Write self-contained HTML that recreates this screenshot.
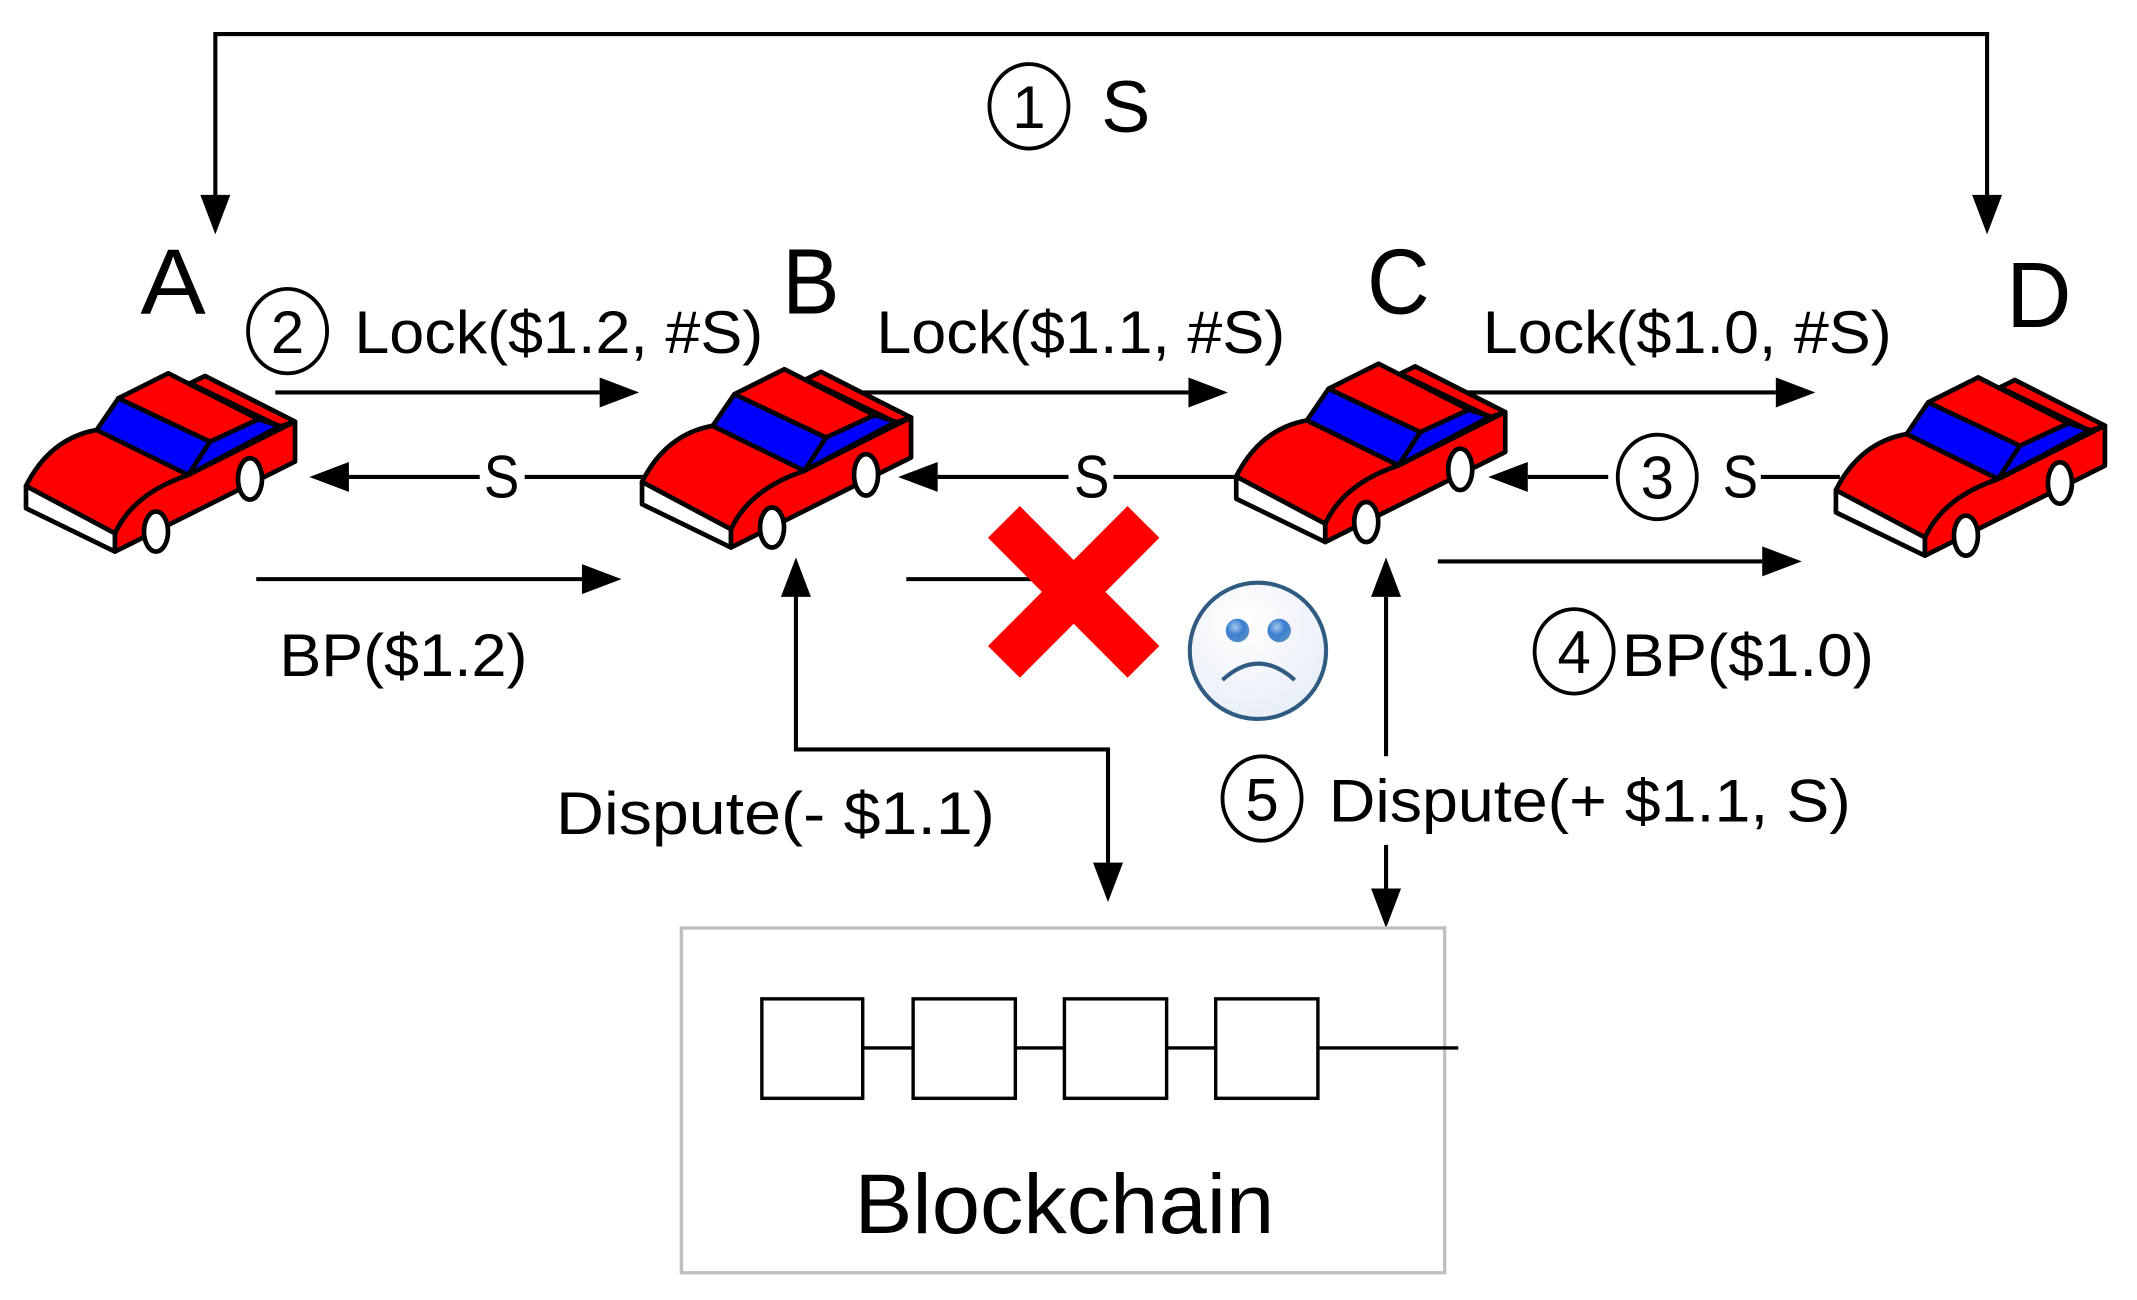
<!DOCTYPE html>
<html><head><meta charset="utf-8"><style>
html,body{margin:0;padding:0;background:#fff;overflow:hidden}
svg{display:block}
text{font-family:"Liberation Sans",sans-serif;fill:#000}
</style></head><body>
<svg width="2137" height="1300" viewBox="0 0 1568 954" preserveAspectRatio="none" xmlns="http://www.w3.org/2000/svg">
<defs>
<g id="car" stroke="#000" stroke-width="14" stroke-linejoin="round">
  <polygon points="78,408 345,550 345,605 78,475" fill="#fff"/>
  <polygon points="570,100 615,78 885,215 840,230" fill="#f00"/>
  <path d="M345,550 Q400,430 565,375 L885,215 L885,335 L345,605 Z" fill="#f00"/>
  <path d="M78,408 Q150,265 290,240 L565,375 Q400,430 345,550 Z" fill="#f00"/>
  <polygon points="290,240 355,145 630,275 565,375" fill="#00f"/>
  <polygon points="630,275 775,208 840,228 565,375" fill="#00f"/>
  <polygon points="355,145 505,70 775,208 630,275" fill="#f00"/>
  <ellipse cx="468" cy="545" rx="36" ry="60" fill="#fff"/>
  <ellipse cx="750" cy="387" rx="36" ry="62" fill="#fff"/>
</g>
<radialGradient id="fg" cx="0.4" cy="0.3" r="0.8"><stop offset="0" stop-color="#ffffff"/><stop offset="1" stop-color="#e6ecf6"/></radialGradient>
<radialGradient id="eg" cx="0.4" cy="0.35" r="0.7"><stop offset="0" stop-color="#a9c8ee"/><stop offset="0.5" stop-color="#3a7fd0"/><stop offset="1" stop-color="#5a8fc4"/></radialGradient>
</defs>

<g transform="translate(0,256.8) scale(0.2446)"><use href="#car"/></g>
<g transform="translate(452,253.8) scale(0.2446)"><use href="#car"/></g>
<g transform="translate(888,249.8) scale(0.2446)"><use href="#car"/></g>
<g transform="translate(1328,259.8) scale(0.2446)"><use href="#car"/></g>

<g stroke="#000" stroke-width="3" fill="none">
  <polyline points="158,148 158,25 1458,25 1458,148"/>
  <line x1="202" y1="288" x2="440" y2="288"/>
  <line x1="633" y1="288" x2="872" y2="288"/>
  <line x1="1075" y1="288" x2="1303" y2="288"/>
  <line x1="256" y1="350" x2="352" y2="350"/>
  <line x1="385" y1="350" x2="472" y2="350"/>
  <line x1="688" y1="350" x2="784" y2="350"/>
  <line x1="817" y1="350" x2="906" y2="350"/>
  <line x1="1121" y1="350" x2="1180" y2="350"/>
  <line x1="1292" y1="350" x2="1350" y2="350"/>
  <line x1="188" y1="425" x2="427" y2="425"/>
  <line x1="665" y1="425" x2="760" y2="425"/>
  <line x1="1055" y1="412" x2="1293" y2="412"/>
  <polyline points="584,438 584,550 813,550 813,633"/>
  <line x1="1017" y1="438" x2="1017" y2="555"/>
  <line x1="1017" y1="620" x2="1017" y2="652"/>
</g>
<g fill="#000">
  <polygon points="158,172 147,143 169,143"/>
  <polygon points="1458,172 1447,143 1469,143"/>
  <polygon points="469,288 440,277 440,299"/>
  <polygon points="901,288 872,277 872,299"/>
  <polygon points="1332,288 1303,277 1303,299"/>
  <polygon points="227,350 256,339 256,361"/>
  <polygon points="659,350 688,339 688,361"/>
  <polygon points="1092,350 1121,339 1121,361"/>
  <polygon points="456,425 427,414 427,436"/>
  <polygon points="1322,412 1293,401 1293,423"/>
  <polygon points="584,409 573,438 595,438"/>
  <polygon points="813,662 802,633 824,633"/>
  <polygon points="1017,409 1006,438 1028,438"/>
  <polygon points="1017,681 1006,652 1028,652"/>
</g>

<g stroke="#000" stroke-width="2.8" fill="none">
  <ellipse cx="755" cy="78" rx="29" ry="31"/>
  <ellipse cx="211" cy="243" rx="29" ry="31"/>
  <ellipse cx="1216" cy="350" rx="29" ry="31"/>
  <ellipse cx="1155" cy="478" rx="29" ry="31"/>
  <ellipse cx="926" cy="586" rx="29" ry="31"/>
</g>
<g font-size="44" text-anchor="middle">
  <text x="755" y="94">1</text>
  <text x="211" y="259">2</text>
  <text x="1216" y="366">3</text>
  <text x="1155" y="494">4</text>
  <text x="926" y="602">5</text>
</g>

<text x="808" y="97" font-size="54">S</text>
<text x="103" y="230" font-size="68" textLength="48" lengthAdjust="spacingAndGlyphs">A</text>
<text x="574" y="230" font-size="68" textLength="42" lengthAdjust="spacingAndGlyphs">B</text>
<text x="1003" y="230" font-size="68" textLength="46" lengthAdjust="spacingAndGlyphs">C</text>
<text x="1472" y="240" font-size="68" textLength="48" lengthAdjust="spacingAndGlyphs">D</text>
<g font-size="44">
  <text x="260" y="259" textLength="300" lengthAdjust="spacingAndGlyphs">Lock($1.2, #S)</text>
  <text x="643" y="259" textLength="300" lengthAdjust="spacingAndGlyphs">Lock($1.1, #S)</text>
  <text x="1088" y="259" textLength="300" lengthAdjust="spacingAndGlyphs">Lock($1.0, #S)</text>
  <text x="355" y="365" font-size="44" textLength="26" lengthAdjust="spacingAndGlyphs">S</text>
  <text x="788" y="365" font-size="44" textLength="26" lengthAdjust="spacingAndGlyphs">S</text>
  <text x="1264" y="365" font-size="44" textLength="26" lengthAdjust="spacingAndGlyphs">S</text>
  <text x="205" y="496" textLength="182" lengthAdjust="spacingAndGlyphs">BP($1.2)</text>
  <text x="1190" y="496" textLength="185" lengthAdjust="spacingAndGlyphs">BP($1.0)</text>
  <text x="408" y="612" textLength="322" lengthAdjust="spacingAndGlyphs">Dispute(- $1.1)</text>
  <text x="975" y="603" textLength="383" lengthAdjust="spacingAndGlyphs">Dispute(+ $1.1, S)</text>
</g>

<g stroke="#f00" stroke-width="33" stroke-linecap="butt">
  <line x1="736.6" y1="383" x2="839" y2="485.7"/>
  <line x1="839" y1="383" x2="736.6" y2="485.7"/>
</g>

<circle cx="923" cy="477.6" r="50" fill="url(#fg)" stroke="#2f5b82" stroke-width="3"/>
<circle cx="908" cy="462.7" r="8.6" fill="url(#eg)"/>
<circle cx="938.6" cy="462.7" r="8.6" fill="url(#eg)"/>
<path d="M897,499 Q923,475 950,499" fill="none" stroke="#2f5b82" stroke-width="3"/>

<rect x="500" y="681" width="560" height="253" fill="none" stroke="#bfbfbf" stroke-width="2.5"/>
<line x1="633" y1="769" x2="1070" y2="769" stroke="#000" stroke-width="2.5"/>
<g fill="#fff" stroke="#000" stroke-width="2.5">
  <rect x="559" y="733" width="74" height="73"/>
  <rect x="670" y="733" width="75" height="73"/>
  <rect x="781" y="733" width="75" height="73"/>
  <rect x="892" y="733" width="75" height="73"/>
</g>
<text x="627" y="905" font-size="62" textLength="308" lengthAdjust="spacingAndGlyphs">Blockchain</text>
</svg>
</body></html>
